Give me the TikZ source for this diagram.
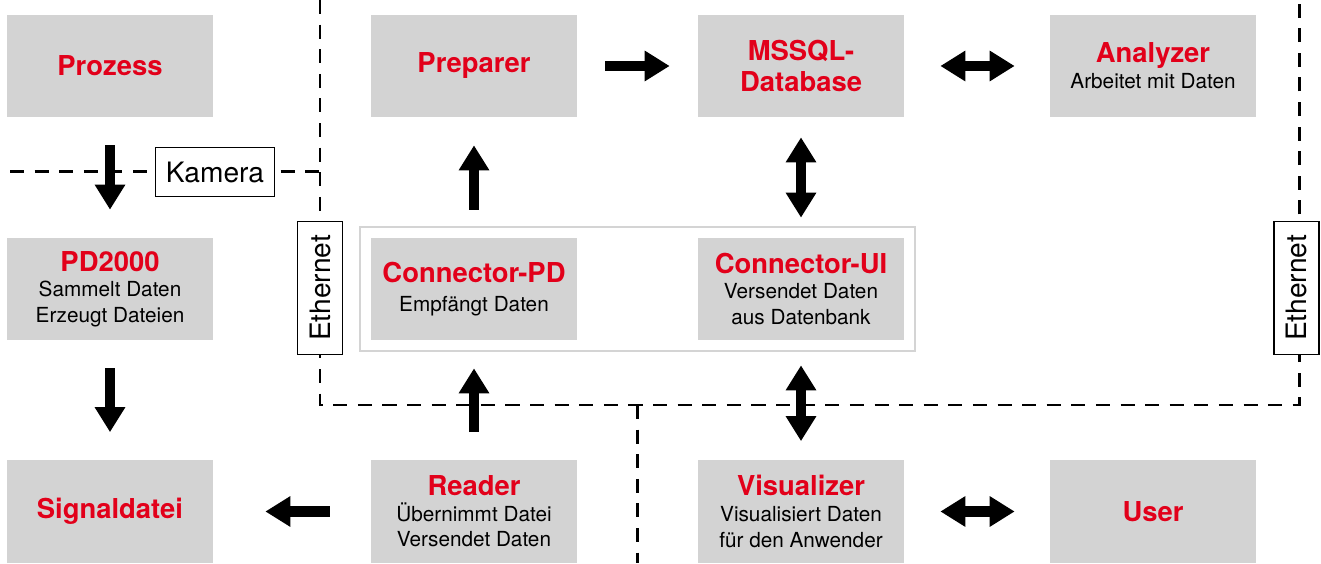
\documentclass[tikz,border=0pt]{standalone}
\usepackage{fontspec}
\setmainfont{TeX Gyre Heros}
\usetikzlibrary{arrows.meta,positioning,fit}
\definecolor{titelrot}{RGB}{226,0,26}
\definecolor{boxgrau}{RGB}{211,211,211}
\definecolor{rahmengrau}{RGB}{212,212,212}
\newcommand{\titel}[1]{{\fontsize{15.6}{18}\selectfont\bfseries\color{titelrot}#1}}

\tikzset{
  block/.style={fill=boxgrau, minimum width=4.12cm, minimum height=2.04cm,
    align=center, inner sep=0pt, font=\fontsize{11.8}{14.6}\selectfont},
  pfeil/.style={line width=6pt, -{Triangle[width=0.58cm,length=0.5cm]},
    shorten <=0.56cm, shorten >=0.56cm},
  dpfeil/.style={line width=6pt,
    {Triangle[width=0.58cm,length=0.5cm]}-{Triangle[width=0.58cm,length=0.5cm]}},
  netz/.style={line width=1.7pt, dash pattern=on 8pt off 6pt},
  etikett/.style={draw, fill=white, line width=0.8pt,
    font=\fontsize{16}{19}\selectfont, inner sep=0pt}
}

\begin{document}
\begin{tikzpicture}
  \useasboundingbox (0,0) rectangle (26.42,11.26);

  % Network borders
  \draw[netz] (0.2,7.82) -- (6.4,7.82);
  \draw[netz] (6.4,11.26) -- (6.4,3.16) -- (25.98,3.16) -- (25.98,11.26);
  \draw[netz] (12.74,3.16) -- (12.74,0);

  % Top row
  \node[block] (prozess) at (2.2,9.94) {\titel{Prozess}};
  \node[block] (preparer) at (9.48,9.94) {\titel{Preparer}};
  \node[block] (mssql) at (16.02,9.94) {\titel{MSSQL-}\\[3pt]\titel{Database}};
  \node[block] (analyzer) at (23.06,9.94) {\titel{Analyzer}\\Arbeitet mit Daten};

  % Middle row
  \node[block] (pd) at (2.2,5.48) {\titel{PD2000}\\Sammelt Daten\\Erzeugt Dateien};
  \node[block] (cpd) at (9.48,5.48) {\titel{Connector-PD}\\[2pt]Empfängt Daten};
  \node[block] (cui) at (16.02,5.48) {\titel{Connector-UI}\\Versendet Daten\\aus Datenbank};
  \node[draw=rahmengrau, line width=1.1pt, inner sep=0.21cm, fit=(cpd)(cui)] (connector) {};

  % Bottom row
  \node[block] (signal) at (2.2,1.03) {\titel{Signaldatei}};
  \node[block] (reader) at (9.48,1.03) {\titel{Reader}\\Übernimmt Datei\\Versendet Daten};
  \node[block] (visual) at (16.02,1.03) {\titel{Visualizer}\\Visualisiert Daten\\für den Anwender};
  \node[block] (user) at (23.06,1.03) {\titel{User}};

  % Labels on the borders
  \node[etikett, minimum width=2.38cm, minimum height=0.98cm] (kamera) at (4.3,7.82) {Kamera};
  \node[etikett, rotate=90, minimum width=2.66cm, minimum height=0.9cm] (eth1) at (6.4,5.5) {Ethernet};
  \node[etikett, rotate=90, minimum width=2.66cm, minimum height=0.9cm] (eth2) at (25.93,5.5) {Ethernet};

  % Arrows
  \draw[pfeil] (preparer) -- (mssql);
  \draw[dpfeil, shorten <=0.72cm, shorten >=0.7cm] (mssql) -- (analyzer);
  \draw[dpfeil, shorten <=0.4cm, shorten >=0.4cm] (mssql) -- (cui);
  \draw[pfeil] (cpd) -- (preparer);
  \draw[pfeil] (prozess) -- (pd);
  \draw[pfeil] (pd) -- (signal);
  \draw[pfeil] (reader) -- (cpd);
  \draw[dpfeil, shorten <=0.5cm, shorten >=0.38cm] (cui) -- (visual);
  \draw[pfeil, shorten <=0.82cm, shorten >=1.04cm] (reader) -- (signal);
  \draw[dpfeil, shorten <=0.72cm, shorten >=0.7cm] (visual) -- (user);
\end{tikzpicture}
\end{document}
